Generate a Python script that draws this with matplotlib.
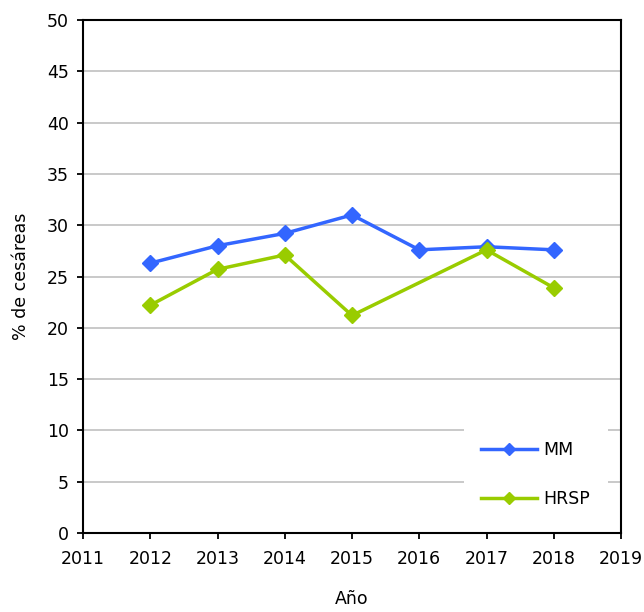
import matplotlib
matplotlib.use("Agg")
import matplotlib.pyplot as plt
import numpy as np

years = [2012, 2013, 2014, 2015, 2016, 2017, 2018]
mm = [26.3, 28.0, 29.2, 31.0, 27.6, 27.9, 27.6]
hrsp = [22.2, 25.7, 27.1, 21.2, None, 27.6, 23.9]
series_names = ["MM", "HRSP"]
colors = ["#3366FF", "#99CC00"]

plt.rcParams['font.family'] = ['DejaVu Sans']

fig = plt.figure(figsize=(6.44, 6.12), dpi=100)
ax = fig.add_axes([83/644, 79/612, (621-83)/644, (592-79)/612])

for name, vals, c in zip(series_names, [mm, hrsp], colors):
    xs = [y for y, v in zip(years, vals) if v is not None]
    ys = [v for v in vals if v is not None]
    ax.plot(xs, ys, color=c, lw=2.5, marker='D', markersize=8.5, label=name,
            zorder=3, clip_on=False)

ax.set_xlim(2011, 2019)
ax.set_ylim(0, 50)
ax.set_xticks(range(2011, 2020))
ax.set_yticks(range(0, 51, 5))
ax.yaxis.grid(True, color="#C0C0C0", lw=1.2)
ax.set_axisbelow(True)
for s in ax.spines.values():
    s.set_linewidth(1.5)
    s.set_color("black")
ax.tick_params(direction='out', length=4, width=1.3, labelsize=12.5, colors='black')
ax.tick_params(axis='x', pad=8)
ax.tick_params(axis='y', pad=6)
ax.set_xlabel("Año", fontsize=12.5, labelpad=16)
ax.set_ylabel("% de cesáreas", fontsize=12.5, labelpad=12)

leg = ax.legend(loc='lower right', bbox_to_anchor=(0.985, 0.005), frameon=True,
                fontsize=12.5, labelspacing=1.8, handlelength=3.2, handletextpad=0.4,
                borderpad=1.0, borderaxespad=0.3, markerscale=0.75)
leg.get_frame().set_edgecolor('none')
leg.get_frame().set_facecolor('white')
leg.get_frame().set_alpha(1)

fig.savefig("out.png", dpi=100)
